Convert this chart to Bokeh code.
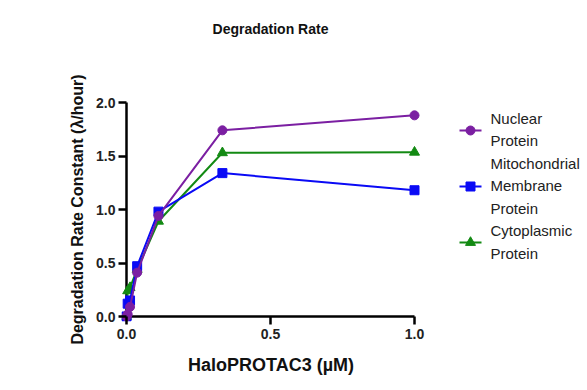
from bokeh.plotting import figure
from bokeh.layouts import row, column
from bokeh.models import Range1d, FixedTicker, NumeralTickFormatter
from bokeh.core.properties import value
from bokeh.embed import file_html
from bokeh.resources import INLINE

# ---- data ----
conc = [0.0, 0.0041, 0.0123, 0.037, 0.111, 0.333, 1.0]
nuclear = [0.0, 0.02, 0.09, 0.41, 0.94, 1.74, 1.88]
mito = [0.0, 0.12, 0.15, 0.47, 0.98, 1.34, 1.18]
cyto = [0.0, 0.24, 0.27, 0.44, 0.89, 1.53, 1.535]

chart_title = "Degradation Rate"
series_names = ["Nuclear\nProtein", "Mitochondrial\nMembrane\nProtein", "Cytoplasmic\nProtein"]
x_ticks = [0.0, 0.5, 1.0]
y_ticks = [0.0, 0.5, 1.0, 1.5, 2.0]

FONT = "Liberation Sans"
colors = ["#7b1fa2", "#0a0af5", "#138a13"]
markers = ["circle", "square", "triangle"]

HEAD = 45                 # height of the title strip
TOP, BOTTOM = 97 - HEAD, 69
BODY_H = 390 - HEAD

# ---- title strip ----
t = figure(width=587, height=HEAD, output_backend="svg", toolbar_location=None,
           x_range=Range1d(0, 587), y_range=Range1d(HEAD, 0))
t.min_border = 0
t.axis.visible = False
t.grid.visible = False
t.outline_line_color = None
t.text([270], [28.5], text=[chart_title], text_font=value(FONT), text_font_style="bold",
       text_font_size="14px", text_align="center", text_baseline="middle", text_color="#111111")

# ---- main plot ----
PAD = 5
XPX = 288.0   # px per x unit
YPX = 107.0   # px per y unit
p = figure(width=440, height=BODY_H, output_backend="svg", toolbar_location=None,
           x_range=Range1d(-PAD / XPX, 1.0 + 6 / XPX),
           y_range=Range1d(-PAD / YPX, 2.0 + PAD / YPX))
p.min_border_left = 121
p.min_border_right = 20
p.min_border_top = TOP
p.min_border_bottom = BOTTOM
p.outline_line_color = None
p.grid.visible = False

for ax, ticks in ((p.xaxis, x_ticks), (p.yaxis, y_ticks)):
    ax.ticker = FixedTicker(ticks=ticks)
    ax.formatter = NumeralTickFormatter(format="0.0")
    ax.axis_line_color = None
    ax.major_tick_line_width = 2.5
    ax.major_tick_line_color = "black"
    ax.major_tick_in = PAD
    ax.major_tick_out = 3
    ax.minor_tick_line_color = None
    ax.major_label_text_font = FONT
    ax.major_label_text_font_style = "bold"
    ax.major_label_text_font_size = "14px"
    ax.major_label_text_color = "#222222"
    ax.axis_label_text_font = FONT
    ax.axis_label_text_font_style = "bold"
    ax.axis_label_text_color = "#111111"

p.xaxis.axis_label = "HaloPROTAC3 (\u00b5M)"
p.xaxis.axis_label_text_font_size = "18px"
p.xaxis.axis_label_standoff = 13
p.xaxis.major_label_standoff = 4
p.yaxis.axis_label = "Degradation Rate Constant (\u03bb/hour)"
p.yaxis.axis_label_text_font_size = "16px"
p.yaxis.axis_label_standoff = 7
p.yaxis.major_label_standoff = 3

# axis lines through the origin
p.segment(x0=[0], y0=[y_ticks[0]], x1=[0], y1=[y_ticks[-1]], line_color="black", line_width=2.5)
p.segment(x0=[x_ticks[0]], y0=[0], x1=[x_ticks[-1]], y1=[0], line_color="black", line_width=2.5)

all_series = [nuclear, mito, cyto]
for idx in [2, 1, 0]:
    ys = all_series[idx]
    p.line(conc, ys, color=colors[idx], line_width=2)
    p.scatter(conc, ys, marker=markers[idx], size=9 if idx != 2 else 10, color=colors[idx])

# ---- legend panel (frame aligned with the main plot's frame; picture-pixel coordinates) ----
q = figure(width=147, height=BODY_H, output_backend="svg", toolbar_location=None,
           x_range=Range1d(440, 587), y_range=Range1d(390 - BOTTOM, TOP + HEAD))
q.min_border_left = 0
q.min_border_right = 0
q.min_border_top = TOP
q.min_border_bottom = BOTTOM
q.axis.visible = False
q.grid.visible = False
q.outline_line_color = None

glyph_y = [130, 186, 242]
text_y = [[118, 140], [163, 185, 208], [230, 253]]
for i, name in enumerate(series_names):
    gy = glyph_y[i]
    q.line([459, 481], [gy, gy], color=colors[i], line_width=2)
    q.scatter([470], [gy], marker=markers[i], size=9 if i != 2 else 10, color=colors[i])
    for j, line in enumerate(name.split("\n")):
        q.text([490], [text_y[i][j]], text=[line], text_font=value(FONT),
               text_font_size="15px", text_baseline="middle", text_align="left",
               text_color="#222222")

layout = column(t, row(p, q, spacing=0), spacing=0)
open("out.html", "w").write(file_html(layout, INLINE))
